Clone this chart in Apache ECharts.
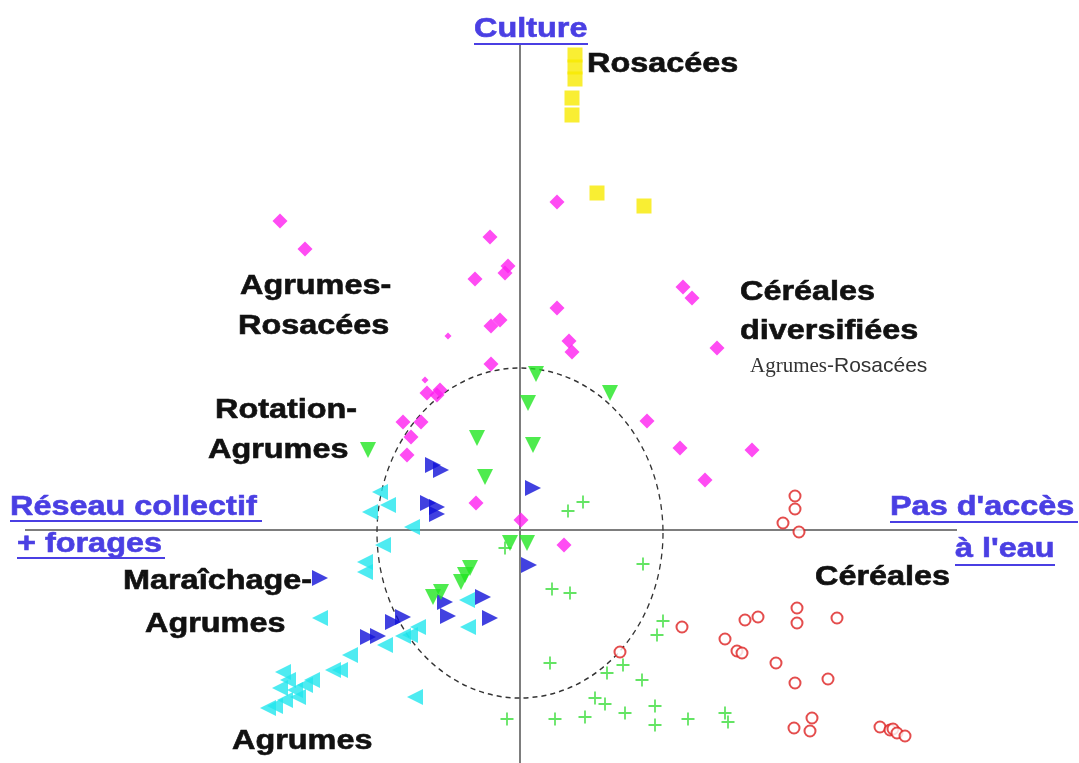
<!DOCTYPE html>
<html>
<head>
<meta charset="utf-8">
<script src="https://cdn.jsdelivr.net/npm/echarts@6/dist/echarts.min.js"></script>
<style>
html,body{margin:0;padding:0;background:#fff;}
#chart{width:1079px;height:763px;}
</style>
</head>
<body>
<div id="chart"></div>
<script>
// ---- Data (factor-plane coordinates) ----
const rosacees = [[0.55,4.75],[0.55,4.63],[0.55,4.51],[0.52,4.32],[0.52,4.15],[0.77,3.37],[1.24,3.24]];
const cerealesDiversifiees = [[-2.40,3.09],[-2.15,2.81],[-0.30,2.93],[-0.45,2.51],[-0.12,2.64],[-0.15,2.57],[-0.20,2.10],[-0.29,2.04],[-0.29,1.66],[0.37,3.28],[0.37,2.22],[1.63,2.43],[1.72,2.32],[0.49,1.89],[0.52,1.78],[1.97,1.82],[1.27,1.09],[1.60,0.82],[2.32,0.80],[1.85,0.50],[-0.93,1.37],[-0.83,1.35],[-0.80,1.40],[-1.17,1.08],[-0.99,1.08],[-1.09,0.93],[-1.13,0.75],[-0.44,0.27],[0.01,0.10],[0.44,-0.15]];
const cerealesDiversifieesSmall = [[-0.72,1.94],[-0.95,1.50]];
const rotationAgrumes = [[0.16,1.56],[0.90,1.37],[0.08,1.27],[-0.43,0.92],[0.13,0.85],[-1.52,0.80],[-0.35,0.53],[-0.10,-0.13],[0.07,-0.13],[-0.50,-0.38],[-0.55,-0.45],[-0.59,-0.52],[-0.87,-0.67],[-0.79,-0.62]];
const maraichageAgrumes = [[-0.87,0.65],[-0.79,0.60],[-0.92,0.27],[-0.83,0.23],[-0.83,0.16],[0.13,0.42],[0.09,-0.35],[-2.00,-0.48],[-0.75,-0.72],[-0.37,-0.67],[-0.72,-0.86],[-0.30,-0.88],[-1.27,-0.92],[-1.17,-0.87],[-1.52,-1.07],[-1.42,-1.06]];
const agrumes = [[-1.40,0.38],[-1.32,0.25],[-1.50,0.18],[-1.08,0.03],[-1.37,-0.15],[-1.55,-0.32],[-1.55,-0.42],[-2.00,-0.88],[-0.53,-0.70],[-0.52,-0.97],[-1.02,-0.97],[-1.10,-1.05],[-1.17,-1.06],[-1.35,-1.15],[-1.70,-1.25],[-1.87,-1.40],[-1.80,-1.40],[-1.05,-1.67],[-2.37,-1.42],[-2.32,-1.50],[-2.40,-1.58],[-2.25,-1.60],[-2.15,-1.55],[-2.08,-1.50],[-2.22,-1.67],[-2.35,-1.70],[-2.45,-1.76],[-2.52,-1.78]];
const cerealesPlus = [[0.48,0.19],[0.63,0.28],[-0.15,-0.18],[1.23,-0.34],[0.32,-0.59],[0.50,-0.63],[1.43,-0.91],[1.37,-1.05],[0.30,-1.33],[1.03,-1.35],[0.87,-1.43],[1.22,-1.50],[0.75,-1.68],[0.85,-1.74],[-0.13,-1.89],[0.35,-1.89],[0.65,-1.87],[1.05,-1.83],[1.35,-1.76],[1.35,-1.95],[1.68,-1.89],[2.05,-1.83],[2.08,-1.92]];
const cereales = [[2.75,0.34],[2.75,0.21],[2.63,0.07],[2.79,-0.02],[2.77,-0.78],[2.77,-0.93],[2.38,-0.87],[2.25,-0.90],[3.17,-0.88],[1.62,-0.97],[1.00,-1.22],[2.05,-1.09],[2.17,-1.21],[2.22,-1.23],[2.56,-1.33],[2.75,-1.53],[3.08,-1.49],[2.92,-1.88],[2.90,-2.01],[2.74,-1.98],[3.60,-1.97],[3.70,-2.00],[3.73,-1.99],[3.77,-2.03],[3.85,-2.06]];
// axis extents and correlation-circle (center x, center y, radius x, radius y)
const axisH = [-4.95, 4.37];
const axisV = [4.87, -2.33];
const circleSpec = [[0, -0.03, 1.43, 1.65]];
const xRange = [-5.20, 5.59];
const yRange = [-2.33, 5.30];

const chart = echarts.init(document.getElementById('chart'), null, {renderer:'canvas'});

const BLUE = '#4a3fe3';
const FONT = '"Liberation Sans", Arial, sans-serif';
function lbl(text, x, y, opts) {
  opts = opts || {};
  return {
    type: 'text', x: x, y: y, scaleX: opts.sx || 1.2, z: 50,
    style: {
      text: text, fill: opts.color || '#111',
      stroke: opts.color || '#111', lineWidth: 0.6,
      font: 'bold ' + (opts.size || 27) + 'px ' + FONT,
      textAlign: 'left', textVerticalAlign: 'middle', verticalAlign: 'middle'
    }
  };
}
function uline(x1, x2, y) {
  return { type: 'line', z: 50, shape: {x1: x1, y1: y, x2: x2, y2: y}, style: {stroke: BLUE, lineWidth: 2} };
}

const crossPath = 'path://M4.3,0H5.7V4.3H10V5.7H5.7V10H4.3V5.7H0V4.3H4.3Z';

const option = {
  backgroundColor: '#ffffff',
  animation: false,
  grid: {left: 0, right: 0, top: 0, bottom: 0},
  xAxis: {type: 'value', min: xRange[0], max: xRange[1], show: false},
  yAxis: {type: 'value', min: yRange[0], max: yRange[1], show: false},
  series: [
    {
      type: 'scatter', data: [], z: 1, silent: true,
      markLine: {
        silent: true, z: 1, symbol: 'none', animation: false,
        label: {show: false},
        lineStyle: {color: '#7d7d7d', width: 2, type: 'solid'},
        data: [
          [{coord: [axisH[0], 0]}, {coord: [axisH[1], 0]}],
          [{coord: [0, axisV[0]]}, {coord: [0, axisV[1]]}]
        ]
      }
    },
    {
      type: 'custom', z: 2, silent: true, data: circleSpec,
      renderItem: function (params, api) {
        const c = api.coord([api.value(0), api.value(1)]);
        const s = api.size([api.value(2), api.value(3)]);
        return {
          type: 'circle', x: c[0], y: c[1], scaleY: s[1] / s[0],
          shape: {cx: 0, cy: 0, r: s[0]},
          style: {fill: 'none', stroke: '#333', lineWidth: 1.3, lineDash: [5, 4]}
        };
      }
    },
    {type: 'scatter', name: 'Céréales', data: cereales, symbol: 'emptyCircle', symbolSize: 11, z: 3,
      itemStyle: {color: '#dd2020', borderColor: '#dd2020', borderWidth: 1.7}},
    {type: 'scatter', name: 'Céréales +', data: cerealesPlus, symbol: crossPath, symbolSize: 13, z: 3,
      itemStyle: {color: '#3ddd3d'}},
    {type: 'scatter', name: 'Agrumes', data: agrumes, symbol: 'triangle', symbolRotate: 90, symbolSize: 16, z: 4,
      itemStyle: {color: '#22e6ee'}},
    {type: 'scatter', name: 'Maraîchage-Agrumes', data: maraichageAgrumes, symbol: 'triangle', symbolRotate: -90, symbolSize: 16, z: 5,
      itemStyle: {color: '#1212d8'}},
    {type: 'scatter', name: 'Rotation-Agrumes', data: rotationAgrumes, symbol: 'triangle', symbolRotate: 180, symbolSize: 16, z: 5,
      itemStyle: {color: '#22e622'}},
    {type: 'scatter', name: 'Céréales diversifiées', data: cerealesDiversifiees, symbol: 'diamond', symbolSize: 15, z: 6,
      itemStyle: {color: '#ff1ff0'}},
    {type: 'scatter', name: 'Céréales diversifiées (petits)', data: cerealesDiversifieesSmall, symbol: 'diamond', symbolSize: 7, z: 6,
      itemStyle: {color: '#ff1ff0'}},
    {type: 'scatter', name: 'Rosacées', data: rosacees, symbol: 'rect', symbolSize: 15, z: 6,
      itemStyle: {color: '#f7ea00'}}
  ],
  graphic: [
    lbl('Culture', 474, 30, {color: BLUE}), uline(474, 588, 44),
    lbl('Réseau collectif', 10, 508, {color: BLUE}), uline(10, 262, 521),
    lbl('+ forages', 17, 545, {color: BLUE}), uline(17, 165, 558),
    lbl("Pas d'accès", 890, 508, {color: BLUE}), uline(890, 1078, 522),
    lbl('à l\'eau', 955, 550, {color: BLUE}), uline(955, 1055, 565),
    lbl('Rosacées', 587, 65),
    lbl('Agrumes-', 240, 287),
    lbl('Rosacées', 238, 327),
    lbl('Céréales', 740, 293),
    lbl('diversifiées', 740, 332),
    {
      type: 'text', x: 750, y: 366, z: 50,
      style: {
        text: '{a|Agrumes}{b|-Rosacées}',
        textVerticalAlign: 'middle', verticalAlign: 'middle',
        rich: {
          a: {fontFamily: '"Liberation Serif", "DejaVu Serif", serif', fontSize: 21, fill: '#333', color: '#333'},
          b: {fontFamily: FONT, fontSize: 21, fill: '#333', color: '#333'}
        }
      }
    },
    lbl('Rotation-', 215, 411),
    lbl('Agrumes', 208, 451),
    lbl('Maraîchage-', 123, 582),
    lbl('Agrumes', 145, 625),
    lbl('Céréales', 815, 578),
    lbl('Agrumes', 232, 742)
  ]
};
chart.setOption(option);
</script>
</body>
</html>
